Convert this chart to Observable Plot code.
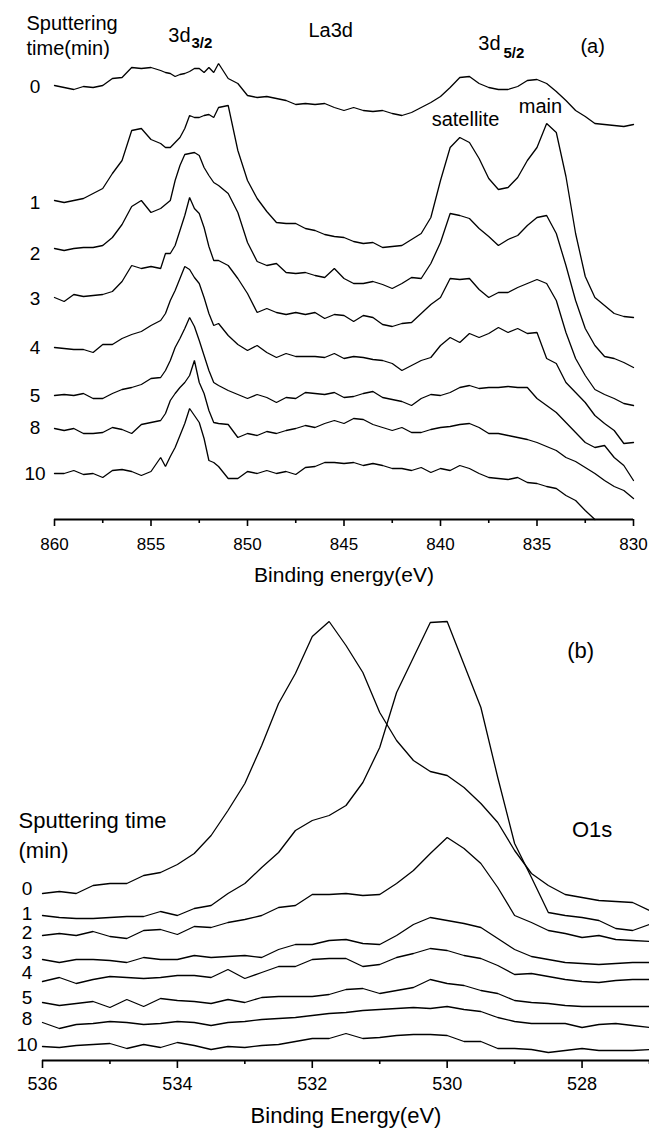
<!DOCTYPE html>
<html><head><meta charset="utf-8">
<script src="https://cdn.jsdelivr.net/npm/d3@7"></script>
<script src="https://cdn.jsdelivr.net/npm/@observablehq/plot@0.6"></script>
<style>
html,body{margin:0;padding:0;background:#fff;}
#chart{width:649px;height:1130px;overflow:hidden;background:#fff;}
#chart svg{display:block;}
</style></head><body><div id="chart"></div>
<script>
const FONT = "'Liberation Sans', Arial, Helvetica, sans-serif";

// ---------- Panel (a): La3d ----------
const laEnergy = [860, 859.5, 859, 858.5, 858, 857.5, 857, 856.5, 856, 855.5, 855, 854.5,
  854.25, 854, 853.75, 853.5, 853.25, 853, 852.75, 852.5, 852.25, 852, 851.75, 851.5,
  851, 850.5, 850, 849.5, 849, 848.5, 848, 847.5, 847, 846.5, 846, 845.5, 845, 844.5, 844, 843.5,
  843, 842.5, 842, 841.5, 841, 840.5, 840, 839.5, 839, 838.5, 838, 837.5, 837, 836.5, 836, 835.5,
  835, 834.5, 834, 833.5, 833, 832.5, 832, 831.5, 831, 830.5, 830];
const laTimes = ["0", "1", "2", "3", "4", "5", "8", "10"];
const la0 = [434, 432, 430, 433, 432, 434, 441, 442, 452, 451, 452, 449,
  447, 446, 443, 445, 446, 448, 451, 451, 447, 452, 447, 456,
  441, 436, 424, 422, 423, 421, 419, 415, 416, 415, 416, 412, 409, 412, 409, 408, 409, 406, 404, 407,
  412, 417, 423, 432, 442, 443, 436, 432, 430, 430, 433, 439, 440, 436, 428, 419, 409, 403, 396, 395, 394, 393, 395];
const la1 = [319, 317, 319, 321, 326, 331, 346, 359, 389, 391, 380, 376,
  372, 372, 377, 382, 391, 404, 402, 402, 404, 405, 402, 412,
  414, 369, 339, 321, 308, 297, 296, 296, 291, 289, 285, 283, 282, 278, 276, 277, 272, 273, 274, 280,
  286, 302, 339, 372, 382, 377, 361, 341, 330, 332, 342, 359, 372, 396, 387, 343, 286, 243, 222, 214, 206, 203, 202];
const la2 = [271, 269, 271, 272, 272, 274, 282, 295, 313, 319, 307, 311,
  315, 319, 339, 354, 365, 366, 367, 364, 352, 344, 337, 334,
  326, 307, 277, 258, 254, 256, 247, 246, 247, 244, 242, 251, 241, 236, 236, 238, 235, 231, 236, 242,
  241, 256, 277, 306, 304, 301, 291, 283, 274, 280, 284, 294, 302, 304, 286, 254, 219, 191, 174, 163, 161, 157, 152];
const la3 = [222, 218, 225, 223, 224, 225, 228, 238, 254, 251, 253, 251,
  266, 266, 274, 289, 304, 322, 311, 306, 292, 273, 259, 259,
  254, 241, 226, 207, 211, 207, 205, 207, 205, 207, 201, 205, 204, 198, 204, 202, 195, 193, 196, 197,
  206, 215, 222, 241, 240, 241, 230, 222, 227, 227, 232, 236, 240, 236, 219, 187, 161, 144, 130, 125, 121, 116, 114];
const la4 = [172, 171, 170, 170, 167, 175, 175, 181, 185, 188, 194, 199,
  206, 219, 229, 241, 253, 250, 242, 236, 222, 206, 194, 196,
  184, 175, 169, 174, 167, 162, 166, 163, 163, 163, 162, 166, 161, 163, 162, 160, 159, 156, 149, 154,
  159, 162, 174, 182, 177, 186, 182, 186, 192, 187, 191, 186, 187, 161, 156, 137, 127, 117, 104, 96, 89, 76, 77];
const la5 = [124, 125, 124, 126, 121, 121, 126, 130, 132, 135, 141, 142,
  149, 159, 172, 181, 191, 202, 193, 179, 164, 149, 137, 134,
  129, 125, 121, 125, 122, 117, 122, 121, 127, 126, 125, 127, 122, 123, 126, 128, 122, 120, 118, 114,
  121, 125, 124, 127, 132, 134, 131, 132, 132, 133, 132, 132, 121, 114, 107, 97, 87, 77, 72, 74, 62, 54, 39];
const la8 = [91, 89, 91, 86, 86, 87, 92, 90, 86, 95, 97, 99,
  106, 119, 126, 132, 137, 144, 159, 137, 126, 109, 97, 96,
  95, 82, 86, 84, 88, 86, 89, 91, 94, 92, 96, 99, 96, 101, 100, 95, 92, 89, 92, 87,
  87, 90, 92, 93, 95, 96, 92, 86, 86, 84, 82, 80, 77, 73, 69, 62, 58, 52, 46, 39, 33, 29, 21];
const la10 = [46, 46, 49, 45, 46, 42, 49, 50, 48, 44, 48, 62,
  53, 63, 72, 84, 96, 111, 104, 97, 81, 59, 57, 53,
  41, 41, 48, 46, 49, 46, 48, 45, 52, 53, 57, 57, 56, 57, 54, 56, 54, 51, 51, 49,
  52, 47, 51, 49, 54, 51, 46, 42, 41, 40, 42, 37, 36, 33, 31, 24, 19, 9, 0, null, null, null, null];
const laLabelI = [433, 317, 266, 221, 172, 124, 92, 46];
const laTicks = [860, 855, 850, 845, 840, 835, 830];
const laMinor = [857.5, 852.5, 847.5, 842.5, 837.5, 832.5];
const laNoteText = ["Sputtering", "time(min)", "3d", "La3d", "3d", "(a)", "satellite", "main"];
const laNoteE = [861.45, 861.45, 852.95, 846.84, 836.89, 832.75, 838.70, 834.82];
const laNoteI = [496, 471, 484, 489, 475.5, 473, 400, 413];
const laNoteAnchor = ["start", "start", "end", "start", "end", "start", "middle", "middle"];
const laSubText = ["3/2", "5/2"];
const laSubE = [852.9, 836.74];
const laSubI = [476, 466];

// ---------- Panel (b): O1s ----------
const oEnergy = [536, 535.75, 535.5, 535.25, 535, 534.75, 534.5, 534.25, 534, 533.75, 533.5, 533.25,
  533, 532.75, 532.5, 532.25, 532, 531.75, 531.5, 531.25, 531, 530.75, 530.5, 530.25, 530,
  529.75, 529.5, 529.25, 529, 528.75, 528.5, 528.25, 528, 527.75, 527.5, 527.25, 527];
const oTimes = ["0", "1", "2", "3", "4", "5", "8", "10"];
const o0 = [167, 169, 167, 175, 177, 177, 185, 188, 196, 207, 225, 250, 277, 315, 357, 387, 424, 439, 415,
  388, 348, 320, 300, 289, 285, 273, 257, 238, 210, 187, 175, 166, 163, 160, 159, 158, 150];
const o1 = [145, 143, 142, 142, 143, 144, 144, 149, 145, 152, 155, 167, 177, 193, 208, 230, 240, 245, 255,
  278, 313, 368, 403, 438, 439, 396, 353, 283, 217, 183, 148, 145, 143, 140, 132, 130, 136];
const o2 = [125, 127, 125, 129, 124, 122, 130, 131, 126, 134, 133, 138, 141, 145, 153, 155, 166, 166, 167,
  165, 166, 177, 190, 207, 223, 212, 197, 173, 145, 138, 130, 127, 123, 125, 121, 120, 119];
const o3 = [101, 98, 101, 101, 100, 98, 103, 101, 101, 105, 103, 104, 105, 103, 111, 116, 116, 120, 121,
  117, 116, 125, 136, 143, 140, 137, 133, 122, 111, 104, 101, 98, 97, 96, 97, 98, 98];
const o4 = [79, 83, 77, 81, 84, 83, 82, 83, 85, 85, 83, 91, 82, 88, 94, 94, 101, 102, 102,
  94, 96, 103, 107, 112, 110, 105, 102, 95, 86, 87, 84, 81, 79, 78, 80, 81, 81];
const o5 = [58, 55, 57, 59, 53, 61, 54, 62, 60, 59, 57, 61, 58, 63, 64, 64, 64, 66, 71,
  72, 67, 70, 73, 81, 77, 75, 70, 67, 60, 58, 57, 55, 54, 54, 54, 54, 54];
const o8 = [38, 32, 36, 37, 39, 38, 36, 37, 39, 38, 35, 38, 39, 41, 42, 43, 45, 47, 48,
  50, 51, 52, 53, 52, 54, 51, 49, 43, 39, 37, 37, 37, 33, 36, 37, 35, 33];
const o10 = [14, 13, 15, 16, 17, 12, 16, 13, 18, 15, 11, 14, 13, 15, 16, 19, 22, 22, 27,
  22, 23, 25, 26, 26, 25, 19, 19, 12, 12, 11, 8, 10, 12, 10, 10, 10, 11];
const oLabelI = [172, 147, 128, 108, 88, 63, 42, 16];
const oTicks = [536, 534, 532, 530, 528];
const oMinor = [535, 533, 531, 529, 527];
const oNoteText = ["Sputtering time", "(min)", "(b)", "O1s"];
const oNoteE = [536.356, 536.356, 528.22, 528.15];
const oNoteI = [240, 210, 410, 231];

// ---------- build tables ----------
function longTable(energy, series, times) {
  return series.flatMap((vals, k) => vals.map((v, i) => ({E: energy[i], I: v, t: times[k]})));
}
const laData = longTable(laEnergy, [la0, la1, la2, la3, la4, la5, la8, la10], laTimes);
const oData = longTable(oEnergy, [o0, o1, o2, o3, o4, o5, o8, o10], oTimes);
const laLabels = laTimes.map((t, i) => ({t, E: laEnergy[0], I: laLabelI[i]}));
const oLabels = oTimes.map((t, i) => ({t, E: oEnergy[0], I: oLabelI[i]}));
const laNotes = laNoteText.map((text, i) => ({text, E: laNoteE[i], I: laNoteI[i], a: laNoteAnchor[i]}));
const laSubs = laSubText.map((text, i) => ({text, E: laSubE[i], I: laSubI[i]}));
const oNotes = oNoteText.map((text, i) => ({text, E: oNoteE[i], I: oNoteI[i]}));

const style = {fontFamily: FONT, background: "white", color: "black", overflow: "visible"};

const plotA = Plot.plot({
  width: 649, height: 600,
  marginLeft: 54, marginRight: 16, marginTop: 19, marginBottom: 81,
  style,
  x: {domain: [860, 830]},
  y: {domain: [0, 500], axis: null},
  marks: [
    Plot.line(laData, {x: "E", y: "I", z: "t", stroke: "black", strokeWidth: 1.3, strokeLinejoin: "miter"}),
    Plot.ruleY([0], {stroke: "black", strokeWidth: 1.8}),
    Plot.axisX({ticks: laTicks, tickSize: 7, tickPadding: 11, fontSize: 17, strokeWidth: 1.6, tickFormat: d => String(d), label: null}),
    Plot.axisX({ticks: laMinor, tickSize: 4, strokeWidth: 1.6, tickFormat: () => "", label: null}),
    Plot.text(["Binding energy(eV)"], {frameAnchor: "bottom", dy: 56, fontSize: 21, lineAnchor: "middle", fill: "black"}),
    Plot.text(laLabels, {x: "E", y: "I", text: "t", dx: -19.5, textAnchor: "middle", lineAnchor: "middle", fontSize: 19, fill: "black"}),
    Plot.text(laNotes.filter(d => d.a === "start"), {x: "E", y: "I", text: "text", textAnchor: "start", lineAnchor: "middle", fontSize: 20, fill: "black"}),
    Plot.text(laNotes.filter(d => d.a === "end"), {x: "E", y: "I", text: "text", textAnchor: "end", lineAnchor: "middle", fontSize: 20, fill: "black"}),
    Plot.text(laNotes.filter(d => d.a === "middle"), {x: "E", y: "I", text: "text", textAnchor: "middle", lineAnchor: "middle", fontSize: 20, fill: "black"}),
    Plot.text(laSubs, {x: "E", y: "I", text: "text", textAnchor: "start", lineAnchor: "middle", fontSize: 15, fontWeight: "bold", fill: "black"})
  ]
});

const plotB = Plot.plot({
  width: 649, height: 530,
  marginLeft: 42, marginRight: 0, marginTop: 15, marginBottom: 70,
  style,
  x: {domain: [536, 527]},
  y: {domain: [0, 445], axis: null},
  marks: [
    Plot.line(oData, {x: "E", y: "I", z: "t", stroke: "black", strokeWidth: 1.3, strokeLinejoin: "miter"}),
    Plot.ruleY([0], {stroke: "black", strokeWidth: 1.8}),
    Plot.axisX({ticks: oTicks, tickSize: 8, tickPadding: 9, fontSize: 18, strokeWidth: 1.6, tickFormat: d => String(d), label: null}),
    Plot.axisX({ticks: oMinor, tickSize: 4, strokeWidth: 1.6, tickFormat: () => "", label: null}),
    Plot.text(["Binding Energy(eV)"], {frameAnchor: "bottom", dy: 55, fontSize: 22, lineAnchor: "middle", fill: "black"}),
    Plot.text(oLabels, {x: "E", y: "I", text: "t", dx: -15.5, textAnchor: "middle", lineAnchor: "middle", fontSize: 19, fill: "black"}),
    Plot.text(oNotes, {x: "E", y: "I", text: "text", textAnchor: "start", lineAnchor: "middle", fontSize: 22, fill: "black"})
  ]
});

const root = document.getElementById("chart");
root.appendChild(plotA);
root.appendChild(plotB);
</script>
</body></html>
